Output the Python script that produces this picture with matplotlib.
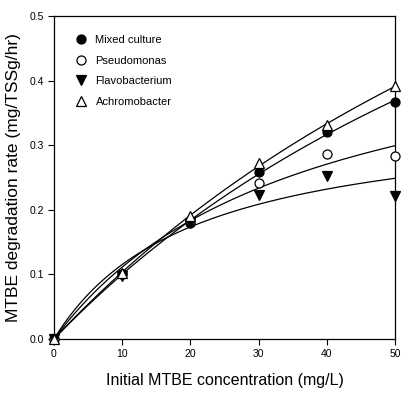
import numpy as np
import matplotlib
matplotlib.use("Agg")
import matplotlib.pyplot as plt
from matplotlib import font_manager as fm

conc = [0, 10, 20, 30, 40, 50]
mixed = [0.0, 0.100, 0.180, 0.258, 0.320, 0.367]
pseudo = [0.0, 0.100, 0.183, 0.241, 0.287, 0.283]
flavo = [0.0, 0.097, 0.180, 0.223, 0.252, 0.222]
achro = [0.0, 0.102, 0.190, 0.272, 0.331, 0.391]
names = ["Mixed culture", "Pseudomonas", "Flavobacterium", "Achromobacter"]
xticks = [0, 10, 20, 30, 40, 50]
yticks = [0.0, 0.1, 0.2, 0.3, 0.4, 0.5]

avail = {f.name for f in fm.fontManager.ttflist}
fam = "Liberation Sans Narrow" if "Liberation Sans Narrow" in avail else "Liberation Sans"
plt.rcParams["font.family"] = [fam, "DejaVu Sans"]

def mm_fit(x, y):
    x = np.asarray(x, float); y = np.asarray(y, float)
    best = None
    for K in np.linspace(1, 300, 3000):
        f = x / (K + x)
        V = np.dot(f, y) / np.dot(f, f)
        err = np.sum((V * f - y) ** 2)
        if best is None or err < best[0]:
            best = (err, K, V)
    return best[1], best[2]

fig = plt.figure(figsize=(4.03, 3.98), dpi=100)
ax = fig.add_axes([54/403, 1-339/398, 341/403, 323/398])

series = [mixed, pseudo, flavo, achro]
styles = [dict(marker="o", mfc="black", mec="black"),
          dict(marker="o", mfc="white", mec="black"),
          dict(marker="v", mfc="black", mec="black"),
          dict(marker="^", mfc="white", mec="black")]
xs = np.linspace(0, 50, 200)
for s in series:
    K, V = mm_fit(conc, s)
    ax.plot(xs, V * xs / (K + xs), color="black", lw=0.9, zorder=2)
for s, st, n in zip(series, styles, names):
    ax.plot(conc, s, ls="none", ms=6.5, mew=0.9, label=n, zorder=3, clip_on=False, **st)

ax.set_xlim(0, 50)
ax.set_ylim(0, 0.5)
ax.set_xticks(xticks)
ax.set_yticks(yticks)
ax.set_xticklabels([str(t) for t in xticks], fontsize=7.5)
ax.set_yticklabels([f"{t:.1f}" for t in yticks], fontsize=7.5)
ax.tick_params(direction="out", length=4, width=0.8, pad=3)
for sp in ax.spines.values():
    sp.set_linewidth(0.9)
ax.set_xlabel("Initial MTBE concentration (mg/L)", fontsize=11.5, labelpad=10)
ax.set_ylabel("MTBE degradation rate (mg/TSSg/hr)", fontsize=12.5, labelpad=6)
leg = ax.legend(loc="upper left", frameon=False, fontsize=8, handletextpad=0.8,
                labelspacing=0.95, borderaxespad=0.0, bbox_to_anchor=(0.05, 0.955),
                handlelength=1.0)
fig.savefig("out.png", dpi=100)
